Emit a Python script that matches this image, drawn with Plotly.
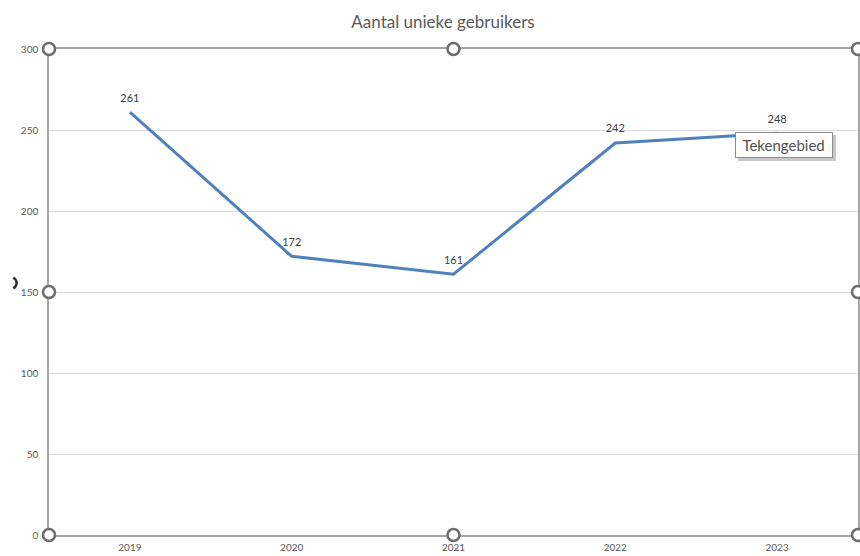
import plotly.graph_objects as go

YEARS = ["2019", "2020", "2021", "2022", "2023"]
USERS = [261, 172, 161, 242, 248]
Y_TICKS = [0, 50, 100, 150, 200, 250, 300]

LINE_COLOR = "#4F81BD"
TEXT_COLOR = "#595959"
GRID_COLOR = "#D9D9D9"
AXIS_COLOR = "#A6A6A6"
HANDLE_COLOR = "#6E6E6E"
FONT = "Lato, 'Open Sans', sans-serif"

W, H = 860, 556
ML, MT, MB = 49, 49, 21
PW, PH = W - ML, H - MT - MB

fig = go.Figure()
fig.add_trace(go.Scatter(
    x=YEARS,
    y=USERS,
    mode="lines+markers+text",
    line=dict(color=LINE_COLOR, width=3),
    marker=dict(size=11, color="rgba(0,0,0,0)"),
    text=[str(v) for v in USERS],
    textposition="top center",
    textfont=dict(size=11, color="#404040", family=FONT),
    cliponaxis=False,
    showlegend=False,
    hoverinfo="skip",
))

# selection handles of the plot area (Excel look)
handles = [(0, 1), (0.5, 1), (1, 1), (0, 0.5), (1, 0.5), (0, 0), (0.5, 0), (1, 0)]
shapes = []
for hx, hy in handles:
    shapes.append(dict(
        type="circle", xref="paper", yref="paper",
        xsizemode="pixel", ysizemode="pixel",
        xanchor=hx, yanchor=hy,
        x0=-6, x1=6, y0=-6, y1=6,
        line=dict(color=HANDLE_COLOR, width=2.5),
        fillcolor="white", layer="above",
    ))
# chart-area handle, only its right arc shows at the left edge
shapes.append(dict(
    type="path", xref="paper", yref="paper",
    xsizemode="pixel", ysizemode="pixel",
    xanchor=(10 - ML) / PW, yanchor=(H - MB - 283) / PH,
    path="M 3.25,-5.6 C 7.6,-2.5 7.6,2.5 3.25,5.6",
    line=dict(color="#303030", width=2.5),
    layer="above",
))

tip_x = (785.5 - ML) / PW
tip_y = (H - MB - 145) / PH

fig.update_layout(
    width=W, height=H,
    paper_bgcolor="white",
    plot_bgcolor="white",
    font=dict(family=FONT, size=11, color=TEXT_COLOR),
    margin=dict(l=ML, r=0, t=MT, b=MB),
    title=dict(text="Aantal unieke gebruikers", x=443 / W, xanchor="center",
               y=1 - 22 / H, yanchor="middle",
               font=dict(size=17, color=TEXT_COLOR, family=FONT)),
    shapes=shapes,
    annotations=[
        dict(
            text="\u00a0Tekengebied\u00a0", xref="paper", yref="paper",
            x=tip_x, y=tip_y, xanchor="center", yanchor="middle",
            xshift=3, yshift=-3,
            showarrow=False, bgcolor="#C8C8C8", bordercolor="#C8C8C8",
            borderwidth=1, borderpad=3,
            font=dict(size=15, color="#C8C8C8", family=FONT),
        ),
        dict(
            text="\u00a0Tekengebied\u00a0", xref="paper", yref="paper",
            x=tip_x, y=tip_y, xanchor="center", yanchor="middle",
            showarrow=False, bgcolor="white", bordercolor="#8C8C8C",
            borderwidth=1, borderpad=3,
            font=dict(size=15, color="#505050", family=FONT),
        ),
    ],
)
fig.update_xaxes(
    type="category", range=[-0.5, 4.5],
    showgrid=False, showline=True, linecolor=AXIS_COLOR, linewidth=1.5,
    mirror=True, ticks="", tickfont=dict(size=10, color=TEXT_COLOR),
    ticklabelstandoff=2,
)
fig.update_yaxes(
    range=[0, 300], tickvals=Y_TICKS,
    showgrid=True, gridcolor=GRID_COLOR, gridwidth=1,
    showline=True, linecolor=AXIS_COLOR, linewidth=1.5, mirror=True,
    zeroline=False, ticks="", ticklabelstandoff=7,
    tickfont=dict(size=10, color=TEXT_COLOR),
)

# drop the default page margin so the figure fills the window
fig.write_html("out.html",
               config=dict(displayModeBar=False),
               post_script="document.body.style.margin='0';document.body.style.overflow='hidden';")
